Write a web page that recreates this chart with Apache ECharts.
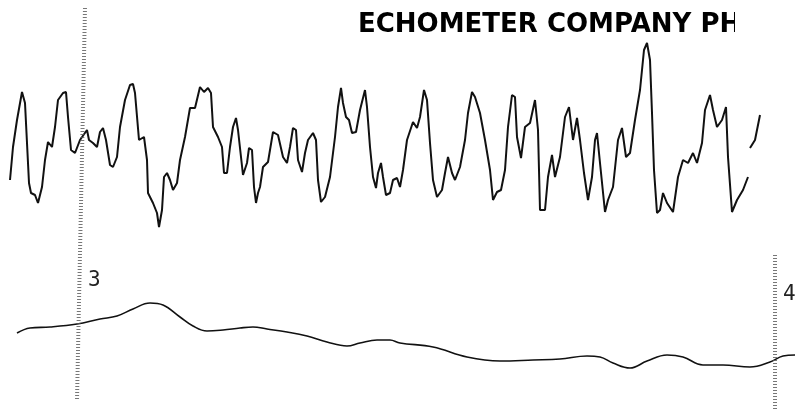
<!DOCTYPE html>
<html>
<head>
<meta charset="UTF-8"/>
<title>Echometer trace</title>
<script src="https://cdn.jsdelivr.net/npm/echarts@6/dist/echarts.min.js"></script>
<style>
  html, body { margin: 0; padding: 0; background: #fff; }
  #main { width: 795px; height: 409px; }
</style>
</head>
<body>
<div id="main"></div>
<script type="text/javascript">
// upper trace (acoustic signal): [time, deflection]
var upperTrace = [
  [10,-30],[13,3],[17,30],[22,58],[25,47],[27,7],[29,-33],[31,-43],[35,-45],[38,-53],
  [42,-37],[45,-10],[48,8],[52,3],[55,23],[58,50],[63,57],[66,58],[68,33],[71,0],
  [75,-3],[80,10],[87,20],[89,10],[93,7],[97,3],[100,18],[103,22],[106,10],[110,-15],
  [113,-17],[117,-7],[120,23],[125,50],[130,65],[133,66],[135,57],[139,10],[144,13],[147,-10],
  [148,-43],[153,-53],[157,-63],[159,-77],[162,-60],[164,-27],[167,-23],[170,-30],[173,-40],[177,-33],
  [180,-10],[185,13],[190,42],[195,42],[200,63],[204,58],[208,62],[211,57],[213,23],[218,13],
  [222,3],[224,-23],[227,-23],[230,3],[233,23],[236,32],[238,20],[241,-7],[243,-25],[247,-13],
  [249,2],[252,0],[254,-37],[256,-53],[258,-43],[260,-37],[263,-17],[268,-12],[273,18],[278,15],
  [283,-7],[287,-13],[290,3],[293,22],[296,20],[298,-10],[302,-22],[305,-3],[308,10],[313,17],
  [316,10],[318,-30],[321,-52],[325,-47],[330,-27],[335,13],[338,43],[341,62],[343,47],[346,33],
  [349,30],[352,17],[356,18],[360,40],[365,60],[367,43],[370,3],[373,-27],[376,-38],[378,-23],
  [381,-13],[383,-27],[386,-45],[390,-43],[393,-30],[397,-28],[400,-37],[403,-20],[407,10],[413,28],
  [417,22],[420,33],[424,60],[427,50],[430,7],[433,-30],[437,-47],[442,-40],[445,-23],[448,-7],
  [452,-23],[455,-30],[460,-17],[465,10],[468,37],[472,58],[475,53],[480,37],[485,10],[490,-20],
  [493,-50],[497,-42],[501,-40],[505,-20],[508,23],[512,55],[515,53],[517,13],[521,-8],[525,23],
  [530,27],[535,50],[537,50],[538,20],[540,-60],[545,-60],[548,-27],[552,-5],[555,-27],[560,-7],
  [565,33],[569,43],[573,10],[577,32],[580,10],[584,-23],[588,-50],[592,-27],[595,10],[597,17],
  [600,-13],[605,-62],[608,-50],[613,-37],[618,10],[622,22],[626,-7],[630,-3],[635,30],[640,60],
  [644,100],[647,107],[650,90],[652,37],[654,-20],[657,-63],[660,-60],[663,-43],[667,-53],[673,-62],
  [678,-27],[683,-10],[688,-13],[693,-3],[697,-13],[702,7],[705,40],[710,55],[713,40],[717,23],
  [722,30],[726,43],[728,-7],[732,-62],[737,-50],[743,-40],[748,-27],
  [749,null],
  [750,2],[755,10],[760,35]
];

// lower trace (smoothed level signal): [time, deflection]
var lowerTrace = [
  [17,7],[30,12],[50,13],[77,16],[100,21],[117,24],[133,31],[150,37],[163,35],[180,23],
  [193,14],[207,9],[223,10],[240,12],[253,13],[267,11],[287,8],[307,4],[327,-2],[347,-6],
  [360,-3],[377,0],[390,0],[400,-3],[433,-7],[467,-17],[500,-21],[533,-20],[560,-19],[587,-16],
  [600,-17],[613,-23],[630,-28],[647,-21],[667,-15],[683,-17],[703,-25],[723,-25],[750,-27],[770,-22],
  [783,-16],[795,-15]
];

// time marks (dotted vertical lines) and their numbers
var markNames = ['3', '4'];
var markLines = [
  [[85, 8], [77, 400]],
  [[775, 255], [775, 409]]
];

var titleText = 'ECHOMETER COMPANY PH';

var myChart = echarts.init(document.getElementById('main'));

var hiddenX = { show: false, type: 'value', min: 0, max: 795 };

var option = {
  backgroundColor: '#ffffff',
  animation: false,
  grid: [
    { left: 0, right: 0, top: 30, height: 200 },
    { left: 0, right: 0, top: 280, height: 100 },
    { left: 0, right: 0, top: 0, bottom: 0 }
  ],
  xAxis: [
    Object.assign({ gridIndex: 0 }, hiddenX),
    Object.assign({ gridIndex: 1 }, hiddenX),
    Object.assign({ gridIndex: 2 }, hiddenX)
  ],
  yAxis: [
    { gridIndex: 0, show: false, type: 'value', min: -80, max: 120 },
    { gridIndex: 1, show: false, type: 'value', min: -40, max: 60 },
    { gridIndex: 2, show: false, type: 'value', min: 0, max: 409, inverse: true }
  ],
  series: [
    {
      type: 'line', xAxisIndex: 0, yAxisIndex: 0,
      data: upperTrace, symbol: 'none', connectNulls: false,
      lineStyle: { color: '#111', width: 2 }
    },
    {
      type: 'line', xAxisIndex: 1, yAxisIndex: 1,
      data: lowerTrace, symbol: 'none', smooth: 0.4,
      lineStyle: { color: '#111', width: 1.6 }
    },
    {
      type: 'line', xAxisIndex: 2, yAxisIndex: 2,
      data: [], symbol: 'none',
      markLine: {
        silent: true, symbol: 'none', animation: false,
        label: { show: false },
        lineStyle: { color: '#555', width: 4, type: [1, 2], opacity: 0.8 },
        data: markLines.map(function (m) {
          return [{ coord: m[0] }, { coord: m[1] }];
        })
      }
    }
  ],
  graphic: [
    {
      type: 'text', left: 358, top: 12, z: 10,
      style: {
        text: titleText, fill: '#000',
        font: 'bold 26px "DejaVu Sans", sans-serif'
      }
    },
    { type: 'rect', left: 735, top: 0, z: 11, shape: { width: 60, height: 44 }, style: { fill: '#fff' } },
    {
      type: 'text', left: 88, top: 270, z: 10,
      style: { text: markNames[0], fill: '#222', font: '300 21px "DejaVu Sans Mono", monospace' }
    },
    {
      type: 'text', left: 783, top: 284, z: 10,
      style: { text: markNames[1], fill: '#222', font: '300 21px "DejaVu Sans Mono", monospace' }
    }
  ]
};

myChart.setOption(option);
</script>
</body>
</html>
